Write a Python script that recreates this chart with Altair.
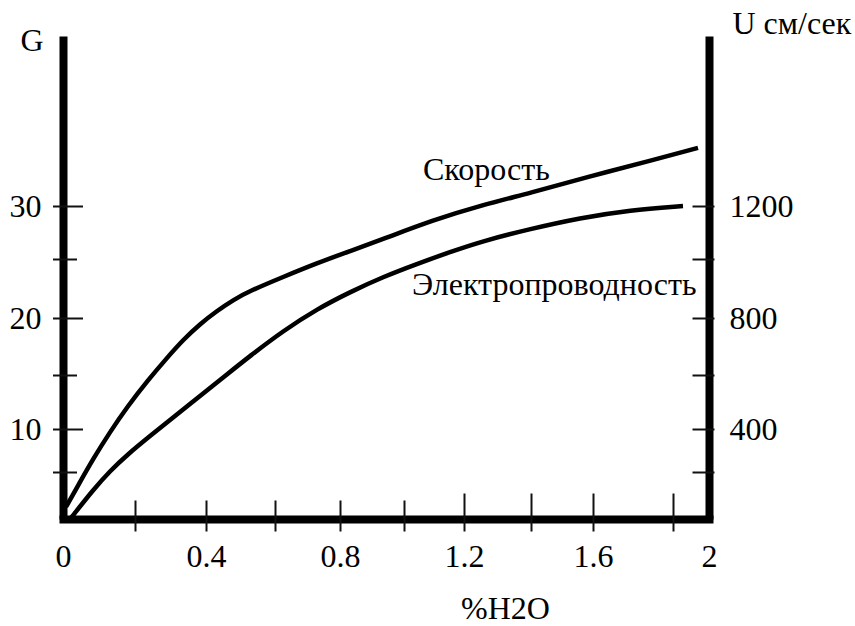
import altair as alt
import pandas as pd

# ---- data -------------------------------------------------------------
# Speed of propagation U (cm/s) against water content, %H2O
speed_h2o = [0.0083, 0.0472, 0.0833, 0.1306, 0.1778, 0.2366, 0.2901, 0.3352,
             0.3831, 0.4319, 0.4783, 0.5275, 0.6246, 0.7292, 0.8313, 0.9344,
             1.0967, 1.2567, 1.3970, 1.5806, 1.7500, 1.9389]
speed_u = [51, 157, 260, 386, 481, 581, 660, 723,
           779, 824, 861, 892, 939, 986, 1030, 1075,
           1147, 1204, 1246, 1302, 1362, 1405]

# Electrical conductivity G against water content, %H2O
cond_h2o = [0.0222, 0.0833, 0.1306, 0.1778, 0.2423, 0.3127, 0.3831, 0.4551,
            0.5275, 0.6246, 0.7292, 0.8313, 0.9344, 1.0433, 1.1533, 1.2567,
            1.3970, 1.5581, 1.6925, 1.8556]
cond_g = [0.11, 3.09, 5.12, 6.98, 9.19, 11.20, 13.06, 14.91,
          16.67, 18.86, 20.76, 22.20, 23.48, 24.58, 25.66, 26.70,
          27.83, 28.87, 29.62, 30.00]

# Curve captions
caption_text = ["Скорость", "Электропроводность"]
caption_h2o = [1.063, 1.027]
caption_g = [32.29, 21.95]

# Axis values
x_label_values = [0, 0.4, 0.8, 1.2, 1.6, 2]
x_ticks_left = [0.2, 0.4, 0.6, 0.8, 1.0]
x_ticks_right = [1.2, 1.4, 1.6, 1.8]
g_label_values = [10, 20, 30]
g_minor_ticks = [5, 15, 25]
u_label_values = [400, 800, 1200]
u_ticks = [200, 400, 600, 800, 1000, 1200]

# ---- scales (hand-drawn axes: piecewise linear) -----------------------
X_DOMAIN = [0, 0.2, 0.4, 0.6, 0.8, 1.0, 1.2, 1.4, 1.6, 1.8, 2.0]
X_RANGE = [0, 72, 143, 212, 277, 341, 401, 468, 530, 610, 646]
G_DOMAIN = [0, 5, 10, 15, 20, 25, 30, 45]
U_DOMAIN = [0, 200, 400, 600, 800, 1000, 1200, 1800]
Y_RANGE = [479, 432, 389, 335, 278, 219, 166, -4]

x_scale = alt.Scale(domain=X_DOMAIN, range=X_RANGE, nice=False, zero=False)
g_scale = alt.Scale(domain=G_DOMAIN, range=Y_RANGE, nice=False, zero=False)
u_scale = alt.Scale(domain=U_DOMAIN, range=Y_RANGE, nice=False, zero=False)

FONT = "Liberation Serif"
FS = 32
INK = "black"
TICK = "#111111"

speed_df = pd.DataFrame({"h2o": speed_h2o, "u": speed_u})
cond_df = pd.DataFrame({"h2o": cond_h2o, "g": cond_g})
caption_df = pd.DataFrame({"h2o": caption_h2o, "g": caption_g, "text": caption_text})

# ---- axes ---------------------------------------------------------------
x_main = alt.Axis(orient="bottom", values=x_label_values, format="~g",
                  ticks=False, tickSize=0, grid=False, domainWidth=8,
                  domainColor=INK, domainCap="square",
                  labelPadding=22, labelFlush=False, labelOverlap=False,
                  title="%H2O", titleX=442, titleY=99, titleAlign="center",
                  titleBaseline="alphabetic")
x_ticks_a = alt.Axis(orient="bottom", values=x_ticks_left, domain=False,
                     labels=False, grid=False, tickSize=31, offset=-19,
                     tickWidth=2, tickColor=TICK, title=None)
x_ticks_b = alt.Axis(orient="bottom", values=x_ticks_right, domain=False,
                     labels=False, grid=False, tickSize=38, offset=-26,
                     tickWidth=2, tickColor=TICK, title=None)

g_main = alt.Axis(orient="left", values=g_label_values, ticks=False, tickSize=0,
                  grid=False, domainWidth=8, domainColor=INK, labelPadding=22,
                  labelFlush=False, labelOverlap=False,
                  title="G", titleAngle=0, titleX=-31.5, titleY=10,
                  titleAlign="center", titleBaseline="alphabetic")
g_major = alt.Axis(orient="left", values=g_label_values, domain=False, labels=False,
                   grid=False, tickSize=30, offset=-19.5, tickWidth=2,
                   tickColor=TICK, title=None)
g_minor = alt.Axis(orient="left", values=g_minor_ticks, domain=False, labels=False,
                   grid=False, tickSize=24, offset=-13.5, tickWidth=2,
                   tickColor=TICK, title=None)
u_main = alt.Axis(orient="right", values=u_label_values, format="d",
                  ticks=False, tickSize=0, grid=False, domainWidth=8,
                  domainColor=INK, labelPadding=20,
                  labelFlush=False, labelOverlap=False,
                  title="U см/сек", titleAngle=0, titleX=23, titleY=-7,
                  titleAlign="left", titleBaseline="alphabetic")
u_tick_axis = alt.Axis(orient="right", values=u_ticks, domain=False, labels=False,
                       grid=False, tickSize=22, offset=-17, tickWidth=2,
                       tickColor=TICK, title=None)

# ---- layers -------------------------------------------------------------
speed_line = alt.Chart(speed_df).mark_line(
    color=INK, strokeWidth=4.5, interpolate="basis"
).encode(
    x=alt.X("h2o:Q", scale=x_scale, axis=x_main),
    y=alt.Y("u:Q", scale=u_scale, axis=u_main),
)

cond_line = alt.Chart(cond_df).mark_line(
    color=INK, strokeWidth=4.5, interpolate="basis"
).encode(
    x=alt.X("h2o:Q", scale=x_scale, axis=x_ticks_a),
    y=alt.Y("g:Q", scale=g_scale, axis=g_main),
)

ticks_g_major = alt.Chart(cond_df).mark_point(opacity=0).encode(
    x=alt.X("h2o:Q", scale=x_scale, axis=x_ticks_b),
    y=alt.Y("g:Q", scale=g_scale, axis=g_major),
)

ticks_g_minor = alt.Chart(cond_df).mark_point(opacity=0).encode(
    x=alt.X("h2o:Q", scale=x_scale, axis=None),
    y=alt.Y("g:Q", scale=g_scale, axis=g_minor),
)

ticks_u = alt.Chart(speed_df).mark_point(opacity=0).encode(
    x=alt.X("h2o:Q", scale=x_scale, axis=None),
    y=alt.Y("u:Q", scale=u_scale, axis=u_tick_axis),
)

captions = alt.Chart(caption_df).mark_text(
    align="left", baseline="alphabetic", font=FONT, fontSize=FS, color=INK
).encode(
    x=alt.X("h2o:Q", scale=x_scale, axis=None),
    y=alt.Y("g:Q", scale=g_scale, axis=None),
    text="text:N",
)

chart = alt.layer(
    speed_line, cond_line, ticks_g_major, ticks_g_minor, ticks_u, captions
).resolve_scale(
    y="independent"
).resolve_axis(
    x="independent", y="independent"
).properties(
    width=646,
    height=479,
    padding={"left": 63, "top": 40, "right": 146, "bottom": 107},
    autosize=alt.AutoSizeParams(type="none"),
    background="white",
).configure_axis(
    labelFont=FONT, labelFontSize=FS, labelColor=INK,
    titleFont=FONT, titleFontSize=FS, titleColor=INK, titleFontWeight="normal",
).configure_view(
    strokeWidth=0
)

chart.save("out.html", embed_options={"renderer": "svg", "actions": False})
